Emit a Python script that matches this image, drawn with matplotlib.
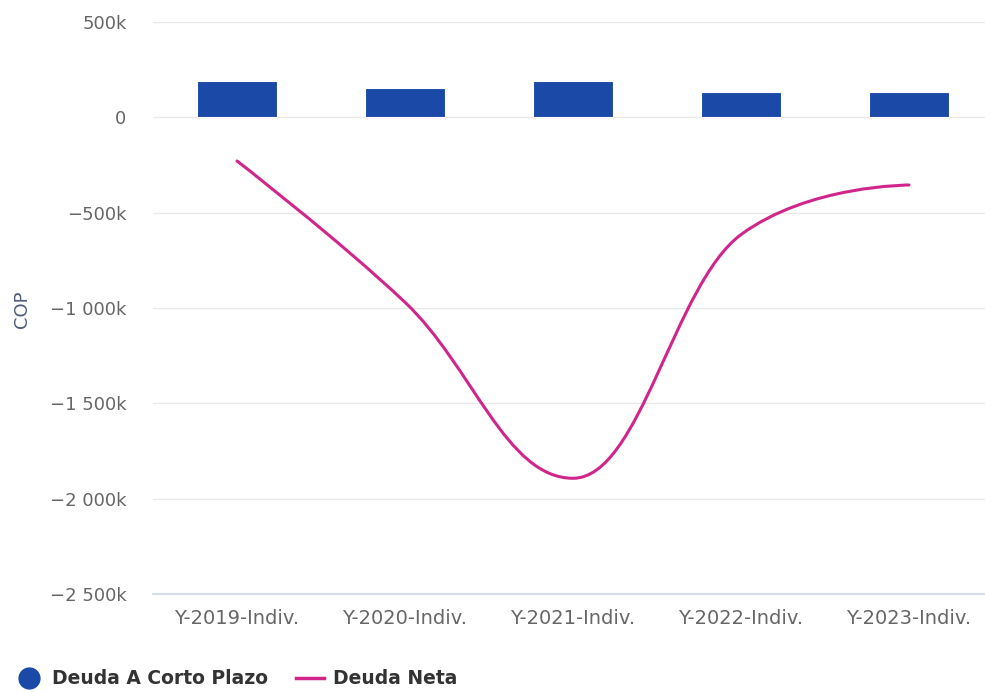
import numpy as np
import matplotlib
matplotlib.use("Agg")
import matplotlib.pyplot as plt
from matplotlib.path import Path
from matplotlib.patches import PathPatch
from matplotlib.lines import Line2D
from matplotlib.ticker import FuncFormatter

categories = ["Y-2019-Indiv.", "Y-2020-Indiv.", "Y-2021-Indiv.", "Y-2022-Indiv.", "Y-2023-Indiv."]
deuda_corto_plazo = [189000, 152000, 189000, 135000, 135000]
deuda_neta = [-229000, -970000, -1893000, -615000, -355000]
y_ticks = [500000, 0, -500000, -1000000, -1500000, -2000000, -2500000]

BAR_COLOR = "#1a49a8"
LINE_COLOR = "#d0268c"


def spline_path(xs, ys, smoothing=1.5):
    """Cubic spline through the points, with Highcharts-style control points."""
    n = len(xs)
    denom = smoothing + 1
    left = [(x, y) for x, y in zip(xs, ys)]
    right = [(x, y) for x, y in zip(xs, ys)]
    for i in range(1, n - 1):
        px, py = xs[i], ys[i]
        lx, ly = xs[i - 1], ys[i - 1]
        nx, ny = xs[i + 1], ys[i + 1]
        lcx = (smoothing * px + lx) / denom
        lcy = (smoothing * py + ly) / denom
        rcx = (smoothing * px + nx) / denom
        rcy = (smoothing * py + ny) / denom
        if rcx != lcx:
            corr = ((rcy - lcy) * (rcx - px)) / (rcx - lcx) + py - rcy
            lcy += corr
            rcy += corr
        if lcy > ly and lcy > py:
            lcy = max(ly, py)
            rcy = 2 * py - lcy
        elif lcy < ly and lcy < py:
            lcy = min(ly, py)
            rcy = 2 * py - lcy
        if rcy > ny and rcy > py:
            rcy = max(ny, py)
            lcy = 2 * py - rcy
        elif rcy < ny and rcy < py:
            rcy = min(ny, py)
            lcy = 2 * py - rcy
        left[i] = (lcx, lcy)
        right[i] = (rcx, rcy)
    verts = [(xs[0], ys[0])]
    codes = [Path.MOVETO]
    for i in range(1, n):
        verts += [right[i - 1], left[i], (xs[i], ys[i])]
        codes += [Path.CURVE4] * 3
    return Path(verts, codes)


def fmt_k(v, pos=None):
    if v == 0:
        return "0"
    k = int(round(abs(v) / 1000))
    s = f"{k:,}".replace(",", " ") + "k"
    return ("\u2212" + s) if v < 0 else s


fig = plt.figure(figsize=(9.85, 6.92), dpi=100)
ax = fig.add_axes([153 / 985, (692 - 594) / 692, (985 - 153) / 985, (594 - 22) / 692])

x = np.arange(len(categories))
ax.bar(x, deuda_corto_plazo, width=0.476, color=BAR_COLOR, edgecolor="white",
       linewidth=0.8, zorder=3)

path = spline_path(list(x.astype(float)), deuda_neta)
ax.add_patch(PathPatch(path, facecolor="none", edgecolor=LINE_COLOR, lw=2.2,
                       capstyle="round", joinstyle="round", zorder=4))

ax.set_xlim(-0.5, -0.5 + (985 - 153) / 168)
ax.set_ylim(-2500000, 500000)
ax.set_yticks(y_ticks)
ax.yaxis.set_major_formatter(FuncFormatter(fmt_k))
ax.set_xticks(x)
ax.set_xticklabels(categories)

ax.grid(axis="y", color="#e8e8e8", linewidth=1.0, zorder=0)
for side in ["top", "right", "left"]:
    ax.spines[side].set_visible(False)
ax.spines["bottom"].set_color("#ccd6eb")
ax.spines["bottom"].set_linewidth(1.2)
ax.tick_params(axis="both", length=0, labelcolor="#666666")
ax.tick_params(axis="y", pad=19, labelsize=13)
ax.tick_params(axis="x", pad=11, labelsize=14)

fig.text(22 / 985, 1 - 309 / 692, "COP", rotation=90, ha="center", va="center",
         fontsize=13, color="#4f5b78")

handles = [
    Line2D([], [], marker="o", linestyle="none", markersize=15,
           markerfacecolor=BAR_COLOR, markeredgecolor=BAR_COLOR),
    Line2D([], [], color=LINE_COLOR, lw=2.5),
]
fig.legend(handles, ["Deuda A Corto Plazo", "Deuda Neta"], loc="center left",
           bbox_to_anchor=(6 / 985, 1 - 679 / 692), frameon=False, ncol=2,
           prop={"weight": "bold", "size": 13.5}, labelcolor="#333333",
           handlelength=1.5, handletextpad=0.45, columnspacing=1.5, borderpad=0)

fig.savefig("out.png", dpi=100)
